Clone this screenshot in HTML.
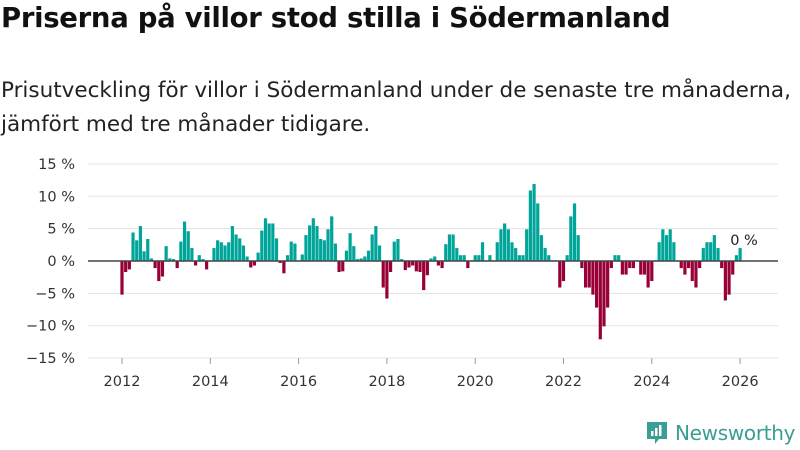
<!DOCTYPE html>
<html><head><meta charset="utf-8"><style>
body{margin:0;width:800px;height:450px;background:#fff;font-family:"DejaVu Sans",sans-serif;overflow:hidden;position:relative}
.t{position:absolute;left:1px;top:2px;font-size:27.5px;font-weight:bold;color:#111;letter-spacing:-0.3px;white-space:nowrap}
.s{position:absolute;left:1px;top:74px;font-size:21.5px;line-height:34px;color:#222;letter-spacing:0px;white-space:nowrap}
</style></head><body>
<div class="t">Priserna på villor stod stilla i Södermanland</div>
<div class="s">Prisutveckling för villor i Södermanland under de senaste tre månaderna,<br>jämfört med tre månader tidigare.</div>
<svg id="c" width="800" height="450" style="position:absolute;left:0;top:0"></svg>
<div style="position:absolute;left:645px;top:420px;display:flex;align-items:center">
<svg width="24" height="26"><path d="M2 2h20v17h-8l-4 5v-5H2z" fill="#3a9e94"/><rect x="6" y="11" width="2.5" height="5" fill="#fff"/><rect x="10" y="8" width="2.5" height="8" fill="#fff"/><rect x="14" y="5" width="2.5" height="11" fill="#fff"/></svg>
<span style="color:#3a9e94;font-size:20px;margin-left:6px;font-family:'DejaVu Sans',sans-serif;letter-spacing:-0.3px">Newsworthy</span></div>
<script>
const startYear=2012;
const values=[-5.2,-1.7,-1.3,4.4,3.2,5.4,1.5,3.4,0.4,-1.1,-3.1,-2.4,
2.3,0.4,0.3,-1.1,3.0,6.1,4.6,2.0,-0.7,0.9,0.3,-1.3,
0.1,2.0,3.2,2.9,2.4,2.9,5.4,4.1,3.5,2.4,0.7,-1.0,
-0.7,1.3,4.7,6.6,5.8,5.8,3.5,-0.3,-1.9,0.9,3.0,2.7,
0.1,1.0,4.0,5.5,6.6,5.4,3.4,3.2,4.9,6.9,2.7,-1.7,
-1.6,1.6,4.3,2.3,0.3,0.4,0.7,1.6,4.1,5.4,2.4,-4.1,
-5.8,-1.7,3.0,3.4,0.3,-1.4,-1.0,-0.7,-1.6,-1.7,-4.5,-2.2,
0.4,0.7,-0.7,-1.1,2.6,4.1,4.1,2.0,0.9,0.9,-1.1,0.1,
0.9,0.9,2.9,0.1,0.9,0.1,2.9,4.9,5.8,4.9,2.9,2.0,
0.9,0.9,4.9,10.9,11.9,8.9,4.0,2.0,0.9,0.1,0.1,-4.1,
-3.1,0.9,6.9,8.9,4.0,-1.1,-4.1,-4.1,-5.2,-7.2,-12.1,-10.1,
-7.2,-1.1,0.9,0.9,-2.1,-2.1,-1.1,-1.1,0.1,-2.1,-2.1,-4.1,
-3.1,0.1,2.9,4.9,4.0,4.9,2.9,0.1,-1.1,-2.1,-1.1,-3.1,
-4.1,-1.1,2.0,2.9,2.9,4.0,2.0,-1.1,-6.1,-5.2,-2.1,0.9,2.0];
const yTicks=[15,10,5,0,-5,-10,-15];
const xTicks=[2012,2014,2016,2018,2020,2022,2024,2026];
const NS="http://www.w3.org/2000/svg",svg=document.getElementById('c');
const X=t=>122+(t-2012)*44.15, Y=v=>261-v*6.47;
function mk(tag,a,txt){const e=document.createElementNS(NS,tag);for(const k in a)e.setAttribute(k,a[k]);if(txt!==undefined)e.textContent=txt;svg.appendChild(e);return e;}
yTicks.forEach(v=>{
const g=mk('line',{x1:88,x2:778,y1:Y(v),y2:Y(v),stroke:'#e3e3e3','stroke-width':1});


const l=mk('text',{x:75,y:Y(v)+5,'text-anchor':'end','font-size':14.5,fill:'#333','font-family':'DejaVu Sans'},(v<0?'−':'')+Math.abs(v)+' %');


});
xTicks.forEach(y=>{
const tk=mk('line',{x1:X(y),x2:X(y),y1:358,y2:364,stroke:'#999'});


const l=mk('text',{x:X(y),y:386,'text-anchor':'middle','font-size':14.5,fill:'#333','font-family':'DejaVu Sans'},y);


});
values.forEach((v,i)=>{
const cx=X(startYear+i/12);
const r=mk('rect',{x:cx-1.6,y:Math.min(Y(v),Y(0)),width:3.2,height:Math.abs(Y(v)-Y(0)),fill:v>=0?'#00a59a':'#980038'});


});
const z=mk('line',{x1:88,x2:778,y1:Y(0),y2:Y(0),stroke:'#444','stroke-width':1.6});


const lab=mk('text',{x:744,y:245,'text-anchor':'middle','font-size':14.5,fill:'#222','font-family':'DejaVu Sans'},'0 %');


</script>
</body></html>
